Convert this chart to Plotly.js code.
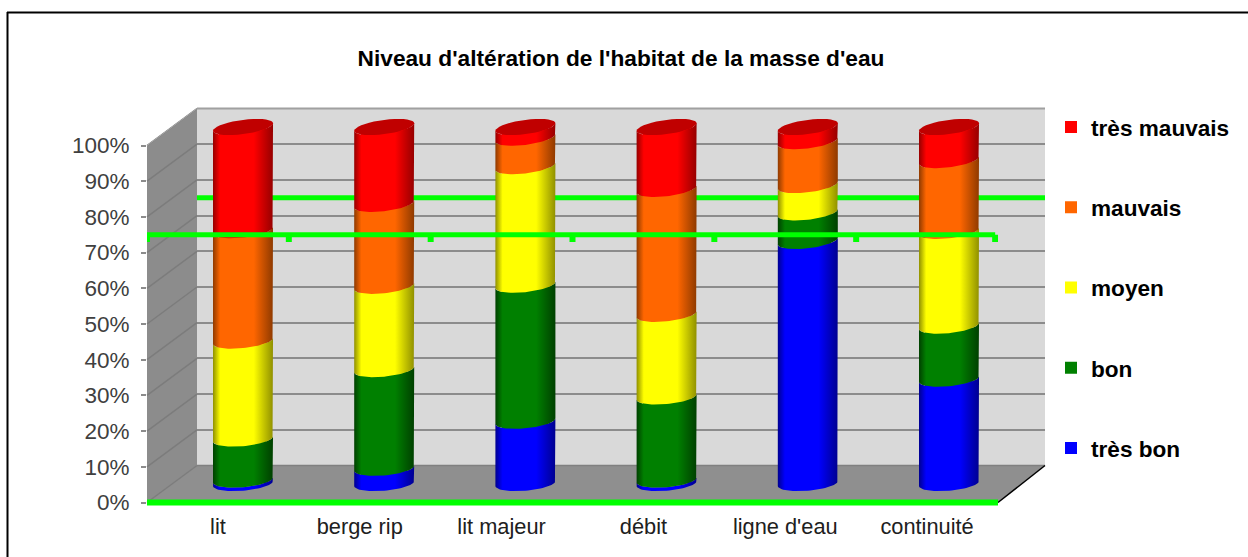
<!DOCTYPE html>
<html><head><meta charset="utf-8">
<script src="https://cdn.plot.ly/plotly-3.0.1.min.js"></script>
<style>html,body{margin:0;padding:0;background:#fff;overflow:hidden}</style>
</head><body><div id="chart" style="width:1248px;height:557px"></div>
<script>
const categories = ['lit','berge rip','lit majeur','débit',"ligne d'eau",'continuité'];
const tresBon = [1,4.3,17.5,1,68,29.3];
const bon = [11.5,27.7,38.2,23.3,8,14.9];
const moyen = [27.5,23.4,33.3,23.2,7.7,26.6];
const mauvais = [31,23,8,35.1,12.3,19.9];
const tresMauvais = [29,21.6,3,17.4,4,9.3];
const seriesNames = ['très bon','bon','moyen','mauvais','très mauvais'];
const seriesValues = [tresBon,bon,moyen,mauvais,tresMauvais];
const seriesColors = ['#0000ff','#008000','#ffff00','#ff6600','#ff0000'];
const seriesEdges = ['#000090','#004000','#909000','#8f3a00','#960000'];
const capColor = '#c00000';
const yTicks = [0,10,20,30,40,50,60,70,80,90,100];
const referenceLevel = 75;

const W=1248,H=557;
const px=x=>x/W, py=y=>1-y/H;
// box geometry in pixels
const fL=147,fR=998,fT=145.5,fB=502.5, dx=50,dy=-37;
const bL=fL+dx,bR=1045,bT=fT+dy,bB=fB+dy;
const cL=172.4,cR=1019.6,cB=483.5,cT=127;
const pct=(fB-fT)/100, cPct=(cB-cT)/100, ext=5, under=1;
const halfW=0.2125, rx=7.2/cPct;

function arc(cx,cy,from,to){ // elliptical front edge of a cylinder slice
  const xs=[],ys=[];const n=36;
  const tilt=(2.5+1.3*cy/100)/cPct;
  for(let k=0;k<=n;k++){
    const a=from+(to-from)*k/n, t=Math.cos(a), s=Math.sin(a);
    xs.push(cx+halfW*t); ys.push(cy+tilt*t+rx*s);
  }
  return [xs,ys];
}
const data=[];
// back wall level line
data.push({type:'scatter',mode:'lines',x:[0,6],y:[referenceLevel,referenceLevel],xaxis:'x',yaxis:'y',
  line:{color:'#00ff00',width:5},showlegend:false,hoverinfo:'skip',cliponaxis:false});
// real stacked bars (also the legend entries)
seriesNames.forEach((n,i)=>data.push({type:'bar',name:n,legendgroup:n,legendrank:100-i,x:categories.map((c,j)=>j+0.5),y:seriesValues[i],
  width:0.33,xaxis:'x2',yaxis:'y2',marker:{color:seriesColors[i],line:{width:0}},hoverinfo:'name+y'}));
// cylinder bodies, built from the same values
categories.forEach((c,j)=>{
  let base=0;
  seriesNames.forEach((n,i)=>{
    const top=base+seriesValues[i][j], cx=j+0.5;
    const upper=arc(cx,top,Math.PI,2*Math.PI);
    const lower=arc(cx,base,2*Math.PI,Math.PI);
    data.push({type:'scatter',mode:'lines',x:upper[0].concat(lower[0]).concat([upper[0][0]]),
      y:upper[1].concat(lower[1]).concat([upper[1][0]]),xaxis:'x2',yaxis:'y2',fill:'toself',
      line:{width:0,color:seriesColors[i]},showlegend:false,hoverinfo:'skip',
      fillgradient:{type:'horizontal',colorscale:[[0,seriesEdges[i]],[0.12,seriesColors[i]],[0.68,seriesColors[i]],[1,seriesEdges[i]]]}});
    base=top;
  });
  const cap=arc(j+0.5,base,0,2*Math.PI);
  data.push({type:'scatter',mode:'lines',x:cap[0],y:cap[1],xaxis:'x2',yaxis:'y2',fill:'toself',
    line:{width:0,color:capColor},fillcolor:capColor,showlegend:false,hoverinfo:'skip'});
});
// front level line with its ticks and the baseline
const tickX=[-0.5,0.5,1.5,2.5,3.5,4.5,5.48];
data.push({type:'scatter',mode:'lines',x:tickX,y:tickX.map(()=>referenceLevel),xaxis:'x3',yaxis:'y3',
  line:{color:'#00ff00',width:5},showlegend:false,hoverinfo:'skip',cliponaxis:false,
  error_y:{type:'constant',symmetric:false,value:0,valueminus:2,thickness:6,width:0,color:'#00ff00'}});
data.push({type:'scatter',mode:'lines',x:[-0.5,5.5],y:[0,0],xaxis:'x3',yaxis:'y3',
  line:{color:'#00ff00',width:6},showlegend:false,hoverinfo:'skip',cliponaxis:false});

const shapes=[];
const poly=(pts,fill,line)=>shapes.push({type:'path',xref:'paper',yref:'paper',layer:'below',
  path:'M'+pts.map(p=>px(p[0])+','+py(p[1])).join('L')+'Z',fillcolor:fill,line:line||{width:0}});
poly([[bL,bT],[bR,bT],[bR,bB],[bL,bB]],'#d9d9d9');
poly([[fL,fT],[bL,bT],[bL,bB],[fL,fB]],'#8c8c8c');
poly([[fL,fB],[bL,bB],[bR,bB],[fR,fB]],'#8f8f8f');
const seg=(x0,y0,x1,y1,c,w)=>shapes.push({type:'line',xref:'paper',yref:'paper',layer:'below',
  x0:px(x0),y0:py(y0),x1:px(x1),y1:py(y1),line:{color:c,width:w}});
yTicks.forEach(v=>{const y=fB-v*pct; seg(fL,y,bL,y+dy,'#7c7c7c',1.5);});
seg(bL,bT,bR,bT,'#a0a0a0',2);
seg(bL,bT,fL,fT,'#a8a8a8',1);
seg(bL,bB,bR,bB,'#808080',1.5);
seg(fR,fB,bR,bB,'#000000',1.5);
// chart-area border: top and left only, as in the picture
seg(7,12.5,W,12.5,'#000000',2);
seg(7.5,12,7.5,H,'#000000',2);

const labelFont='"Liberation Sans",Arial,sans-serif';
const hidden={showgrid:false,zeroline:false,showticklabels:false,ticks:'',showline:false,fixedrange:true};
const layout={width:W,height:H,autosize:false,margin:{l:0,r:0,t:0,b:0},paper_bgcolor:'#ffffff',plot_bgcolor:'rgba(0,0,0,0)',
  barmode:'stack',bargap:0,showlegend:true,shapes,
  title:{text:"Niveau d'altération de l'habitat de la masse d'eau",font:{family:labelFont,size:22.7,color:'#000',weight:'bold'},
    x:621/W,xanchor:'center',y:py(58),yanchor:'middle'},
  legend:{x:px(1051),xanchor:'left',y:py(105.7),yanchor:'top',traceorder:'grouped',tracegroupgap:47.9,
    font:{family:labelFont,size:22.6,color:'#000',weight:'bold'},bgcolor:'rgba(0,0,0,0)',borderwidth:0,itemclick:false,itemdoubleclick:false},
  xaxis:Object.assign({domain:[px(bL),px(bR)],range:[0,6],anchor:'y'},hidden),
  yaxis:{domain:[py(bB),py(bT)],range:[0,100],anchor:'x',showgrid:true,gridcolor:'#8c8c8c',gridwidth:2,tickvals:yTicks,zeroline:false,
    showticklabels:false,ticks:'',showline:false,fixedrange:true},
  xaxis2:Object.assign({domain:[px(cL),px(cR)],range:[0,6],anchor:'y2'},hidden),
  yaxis2:Object.assign({domain:[py(cB+ext*cPct),py(cT-ext*cPct)],range:[-ext,100+ext],anchor:'x2'},hidden),
  xaxis3:{domain:[px(fL),px(fR)],range:[-0.5,5.5],anchor:'y3',tickvals:categories.map((c,j)=>j),ticktext:categories,
    showgrid:false,zeroline:false,showline:false,ticks:'',fixedrange:true,
    tickfont:{family:labelFont,size:21.8,color:'#202020'},ticklabelstandoff:5},
  yaxis3:{domain:[py(fB+under*pct),py(fT)],range:[-under,100],anchor:'x3',tickvals:yTicks,ticktext:yTicks.map(v=>v+'%'),
    showgrid:false,zeroline:false,showline:false,ticks:'outside',ticklen:5,tickwidth:1.5,tickcolor:'#8c8c8c',fixedrange:true,
    tickfont:{family:labelFont,size:22.5,color:'#404040'},ticklabelstandoff:7}
};
Plotly.newPlot('chart',data,layout,{displayModeBar:false});
</script></body></html>
